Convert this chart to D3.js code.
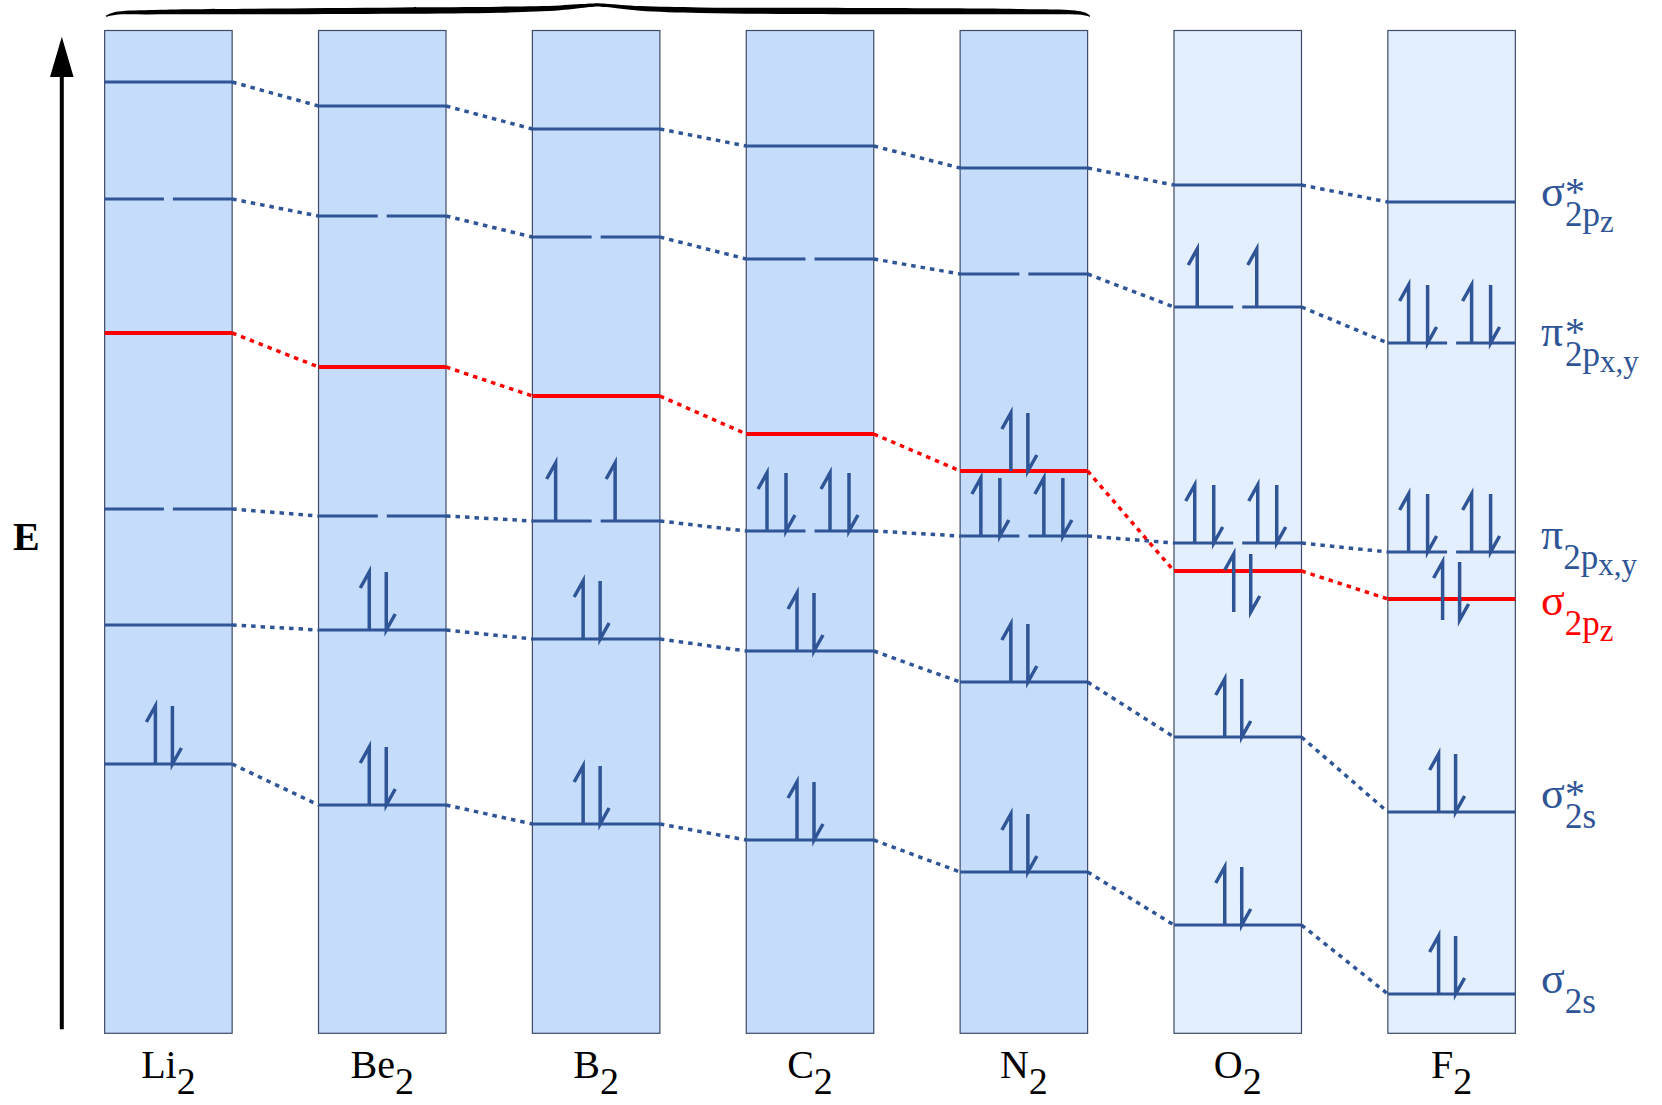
<!DOCTYPE html>
<html>
<head>
<meta charset="utf-8">
<script src="https://cdn.jsdelivr.net/npm/d3@7"></script>
<style>
  body { margin: 0; background: #fff; }
  text { font-family: "Liberation Serif", "Times New Roman", serif; }
</style>
</head>
<body>
<div id="chart"></div>
<script>
// molecules along the x axis
var molecules = ["Li", "Be", "B", "C", "N", "O", "F"];

// orbital energies (arbitrary units), one value per molecule
var sigma2s      = [269, 228, 209, 193, 161, 108, 39];
var sigmaStar2s  = [408, 403, 394, 382, 351, 296, 221];
var pi2p         = [524, 517, 512, 502, 497, 490, 481];
var sigma2pz     = [700, 666, 637, 599, 562, 462, 434];
var piStar2p     = [834, 817, 796, 774, 759, 726, 690];
var sigmaStar2pz = [951, 927, 904, 887, 865, 848, 831];

// number of electrons sitting in each orbital set
var elSigma2s      = [2, 2, 2, 2, 2, 2, 2];
var elSigmaStar2s  = [0, 2, 2, 2, 2, 2, 2];
var elPi2p         = [0, 0, 2, 4, 4, 4, 4];
var elSigma2pz     = [0, 0, 0, 0, 2, 2, 2];
var elPiStar2p     = [0, 0, 0, 0, 0, 2, 4];
var elSigmaStar2pz = [0, 0, 0, 0, 0, 0, 0];

var blue = "#2f5597", red = "#ff0000";

var orbitals = [
  {energy: sigma2s,      el: elSigma2s,      pi: false, color: blue, main: "σ", star: false, sub: "2s", subsub: "",    dy: -1},
  {energy: sigmaStar2s,  el: elSigmaStar2s,  pi: false, color: blue, main: "σ", star: true,  sub: "2s", subsub: "",    dy: -4},
  {energy: pi2p,         el: elPi2p,         pi: true,  color: blue, main: "π", star: false, sub: "2p", subsub: "x,y", dy: -3},
  {energy: sigma2pz,     el: elSigma2pz,     pi: false, color: red,  main: "σ", star: false, sub: "2p", subsub: "z",   dy: 16},
  {energy: piStar2p,     el: elPiStar2p,     pi: true,  color: blue, main: "π", star: true,  sub: "2p", subsub: "x,y", dy: 3},
  {energy: sigmaStar2pz, el: elSigmaStar2pz, pi: false, color: blue, main: "σ", star: true,  sub: "2p", subsub: "z",   dy: 4}
];

// in O2 and F2 the sigma 2pz pair is drawn below its line
var pzDrop  = [0, 0, 0, 0, 0, 41, 21];
var pzShift = [0, 0, 0, 0, 0, 9, 4];

var width = 1662, height = 1105;
var boxTop = 30.5, boxBottom = 1033.3, boxW = 127.5;

var svg = d3.select("#chart")
  .append("svg")
    .attr("width", width)
    .attr("height", height);

var x = d3.scalePoint()
  .domain(molecules)
  .range([168.4, 1451.6]);

var y = d3.scaleLinear()
  .domain([0, 1000])
  .range([1033, 33]);

// boxes
svg.append("g")
  .selectAll("rect")
  .data(molecules)
  .enter()
  .append("rect")
    .attr("x", function(d) { return x(d) - boxW / 2; })
    .attr("y", boxTop)
    .attr("width", boxW)
    .attr("height", boxBottom - boxTop)
    .style("fill", function(d, i) { return i < 5 ? "#c5dcfa" : "#e4effd"; })
    .style("stroke", "#3e4a66")
    .style("stroke-width", 1.2);

// dotted connectors between neighbouring molecules
var links = svg.append("g");
orbitals.forEach(function(o) {
  for (var i = 0; i < molecules.length - 1; i++) {
    links.append("line")
      .attr("x1", x(molecules[i]) + boxW / 2)
      .attr("y1", y(o.energy[i]))
      .attr("x2", x(molecules[i + 1]) - boxW / 2)
      .attr("y2", y(o.energy[i + 1]))
      .style("stroke", o.color)
      .style("stroke-width", 3.5)
      .style("stroke-dasharray", "4.5,5");
  }
});

// energy levels
var levels = svg.append("g");
orbitals.forEach(function(o) {
  molecules.forEach(function(m, i) {
    var cx = x(m), yy = y(o.energy[i]);
    var segs = o.pi ? [[cx - boxW / 2, cx - 4.5], [cx + 4.5, cx + boxW / 2]]
                    : [[cx - boxW / 2, cx + boxW / 2]];
    segs.forEach(function(s) {
      levels.append("line")
        .attr("x1", s[0]).attr("x2", s[1])
        .attr("y1", yy).attr("y2", yy)
        .style("stroke", o.color)
        .style("stroke-width", o.color == red ? 4 : 3);
    });
  });
});

// electrons as half arrows
var spins = svg.append("g");
function electron(cx, base, up) {
  var h = 58;
  var p = up
    ? "M" + cx + "," + base + "L" + cx + "," + (base - h) + "L" + (cx - 9) + "," + (base - h + 16)
    : "M" + cx + "," + (base - h) + "L" + cx + "," + base + "L" + (cx + 9) + "," + (base - 16);
  spins.append("path")
    .attr("d", p)
    .style("fill", "none")
    .style("stroke", blue)
    .style("stroke-width", 3.5)
    .style("stroke-linejoin", "miter");
}

orbitals.forEach(function(o, k) {
  molecules.forEach(function(m, i) {
    var n = o.el[i];
    if (!n) return;
    var cx = x(m), base = y(o.energy[i]);
    var slots;
    if (!o.pi) slots = [[-13, true], [4, false]];
    else if (n == 2) slots = [[-40.5, true], [19, true]];
    else slots = [[-43, true], [-24, false], [20, true], [39, false]];
    if (k == 3) { base += pzDrop[i]; cx += pzShift[i]; }
    slots.forEach(function(s) { electron(cx + s[0], base, s[1]); });
  });
});

// orbital names on the right, next to F2
var names = svg.append("g");
orbitals.forEach(function(o) {
  var base = y(o.energy[6]) + o.dy;
  var t = names.append("text")
    .attr("x", 1541)
    .attr("y", base)
    .style("fill", o.color);
  t.append("tspan").style("font-size", "44px").text(o.main);
  if (o.star) {
    t.append("tspan").attr("x", 1565).attr("dy", -1).style("font-size", "40px").text("*");
    t.append("tspan").attr("x", 1565).attr("dy", 21).style("font-size", "35px").text(o.sub);
  } else {
    t.append("tspan").attr("dy", 20).style("font-size", "35px").text(o.sub);
  }
  if (o.subsub) t.append("tspan").style("font-size", "31px").attr("dy", 6).text(o.subsub);
});

// molecule names under the boxes
var mol = svg.append("g")
  .selectAll("text")
  .data(molecules)
  .enter()
  .append("text")
    .attr("x", function(d) { return x(d); })
    .attr("y", 1078)
    .attr("text-anchor", "middle")
    .style("fill", "#000");
mol.append("tspan").style("font-size", "40px").text(function(d) { return d; });
mol.append("tspan").style("font-size", "38px").attr("dy", 16).text("2");

// energy axis
svg.append("line")
  .attr("x1", 61.8).attr("x2", 61.8)
  .attr("y1", 1029.3).attr("y2", 74)
  .style("stroke", "#000")
  .style("stroke-width", 4);
svg.append("path")
  .attr("d", "M61.8,36.7L50,77L73.6,77Z")
  .style("fill", "#000");
svg.append("text")
  .attr("x", 13)
  .attr("y", 550)
  .style("font-size", "40px")
  .style("font-weight", "bold")
  .text("E");

// brace over Li2 .. N2
var brace = [
  [106, 16.2, 0.6], [115, 13.5, 1.4], [150, 12.2, 2.2], [250, 11.5, 2.8], [400, 10.6, 3.2],
  [500, 9.7, 3], [560, 7.8, 2.4], [590, 5.3, 1.7], [597, 4.8, 1.6], [606, 5.4, 1.7],
  [640, 8.4, 2.3], [700, 10.2, 2.8], [800, 10.9, 3.2], [950, 11.3, 3], [1040, 11.8, 2.5],
  [1075, 12.5, 2], [1085, 14, 1.4], [1090, 16.2, 0.6]
];
svg.append("path")
  .datum(brace)
  .attr("d", d3.area()
    .x(function(d) { return d[0]; })
    .y0(function(d) { return d[1] - d[2]; })
    .y1(function(d) { return d[1] + d[2]; })
    .curve(d3.curveCatmullRom))
  .style("fill", "#000");
</script>
</body>
</html>
